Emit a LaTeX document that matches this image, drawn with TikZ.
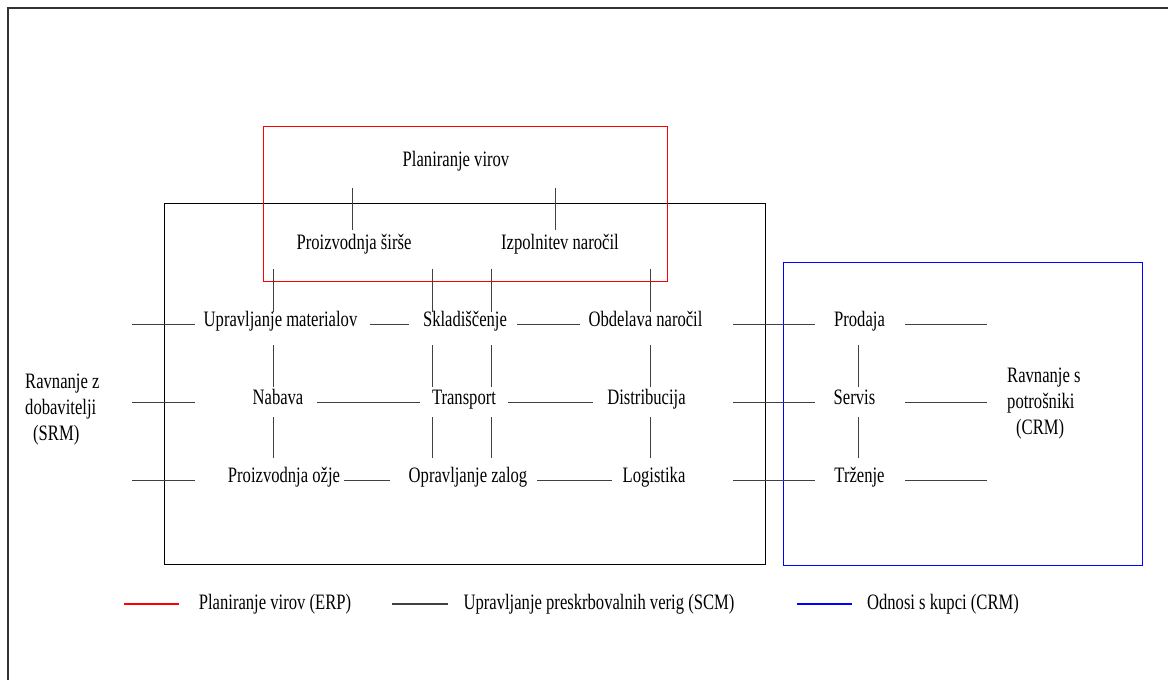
\documentclass[tikz,border=0pt]{standalone}
\usepackage{fontspec}
\setmainfont{Liberation Serif}[FakeStretch=0.755]
\begin{document}
\begin{tikzpicture}[x=1pt,y=-1pt,
  every node/.style={font=\fontsize{22}{26}\selectfont, inner sep=0pt},
  lbl/.style={anchor=mid},
  side/.style={anchor=north west, align=left},
  link/.style={draw=black!75, line width=1pt},
  box/.style={line width=1pt},
  key/.style={line width=1.6pt},
  % vertical links: label row to the row beneath it
  vplan/.style={link, shorten <=23pt, shorten >=17pt},
  vtop/.style={link, shorten <=22pt, shorten >=12pt},
  vone/.style={link, shorten <=21pt, shorten >=15pt},
  vtwo/.style={link, shorten <=15pt, shorten >=22pt}]

\useasboundingbox (0,0) rectangle (1168,680);
\fill[white] (0,0) rectangle (1168,680);

% page frame
\draw[line width=1.2pt, black!80] (8,680) |- (1168,8);

% the three system areas
\draw[box, black] (164,203) rectangle (765,564);
\draw[box, red] (263,126) rectangle (667,281);
\draw[box, blue] (783,262) rectangle (1142,565);

% labels
\node[lbl] (plan) at (456,164.5) {Planiranje virov};
\node[lbl] (psir) at (354,247) {Proizvodnja širše};
\node[lbl] (izp)  at (560,247) {Izpolnitev naročil};

\node[lbl] (um) at (280.5,324) {Upravljanje materialov};
\node[lbl] (sk) at (465,324)   {Skladiščenje};
\node[lbl] (ob) at (645.5,324) {Obdelava naročil};
\node[lbl] (pr) at (859.5,324) {Prodaja};

\node[lbl] (nb) at (278,402)   {Nabava};
\node[lbl] (tr) at (464,402)   {Transport};
\node[lbl] (di) at (646.5,402) {Distribucija};
\node[lbl] (se) at (854.5,402) {Servis};

\node[lbl] (po) at (284,480)   {Proizvodnja ožje};
\node[lbl] (oz) at (468,480)   {Opravljanje zalog};
\node[lbl] (lo) at (654,480)   {Logistika};
\node[lbl] (tz) at (859.5,480) {Trženje};

\node[side] (srm) at (25,374)   {Ravnanje z\\dobavitelji\\\hspace*{8pt}(SRM)};
\node[side] (crm) at (1007,368) {Ravnanje s\\potrošniki\\\hspace*{9pt}(CRM)};

% columns of the vertical links
\coordinate (t1) at (352,0);
\coordinate (t2) at (555,0);
\coordinate (k1) at (273,0);
\coordinate (k2) at (432,0);
\coordinate (k3) at (491,0);
\coordinate (k4) at (650,0);
\coordinate (k5) at (858,0);

% free ends of the row links
\coordinate (w1) at (132,324);
\coordinate (w2) at (132,402);
\coordinate (w3) at (132,480);
\coordinate (e1) at (987,324);
\coordinate (e2) at (987,402);
\coordinate (e3) at (987,480);

% vertical links
\draw[vplan] (plan.mid -| t1) -- (psir.mid -| t1);
\draw[vplan] (plan.mid -| t2) -- (izp.mid -| t2);

\draw[vtop] (psir.mid -| k1) -- (um.mid -| k1);
\draw[vone] (um.mid -| k1) -- (nb.mid -| k1);
\draw[vtwo] (nb.mid -| k1) -- (po.mid -| k1);

\draw[vtop] (psir.mid -| k2) -- (sk.mid -| k2);
\draw[vone] (sk.mid -| k2) -- (tr.mid -| k2);
\draw[vtwo] (tr.mid -| k2) -- (oz.mid -| k2);

\draw[vtop] (izp.mid -| k3) -- (sk.mid -| k3);
\draw[vone] (sk.mid -| k3) -- (tr.mid -| k3);
\draw[vtwo] (tr.mid -| k3) -- (oz.mid -| k3);

\draw[vtop] (izp.mid -| k4) -- (ob.mid -| k4);
\draw[vone] (ob.mid -| k4) -- (di.mid -| k4);
\draw[vtwo] (di.mid -| k4) -- (lo.mid -| k4);

\draw[vone] (pr.mid -| k5) -- (se.mid -| k5);
\draw[vtwo] (se.mid -| k5) -- (tz.mid -| k5);

% row links
\draw[link, shorten >=85.5pt] (w1) -- (um.mid);
\draw[link, shorten <=89.5pt, shorten >=56pt] (um.mid) -- (sk.mid);
\draw[link, shorten <=52pt, shorten >=65.5pt] (sk.mid) -- (ob.mid);
\draw[link, shorten <=87.5pt, shorten >=44.5pt] (ob.mid) -- (pr.mid);
\draw[link, shorten <=45.5pt] (pr.mid) -- (e1);

\draw[link, shorten >=83pt] (w2) -- (nb.mid);
\draw[link, shorten <=39pt, shorten >=44pt] (nb.mid) -- (tr.mid);
\draw[link, shorten <=44pt, shorten >=53.5pt] (tr.mid) -- (di.mid);
\draw[link, shorten <=86.5pt, shorten >=39.5pt] (di.mid) -- (se.mid);
\draw[link, shorten <=50.5pt] (se.mid) -- (e2);

\draw[link, shorten >=89pt] (w3) -- (po.mid);
\draw[link, shorten <=60pt, shorten >=78pt] (po.mid) -- (oz.mid);
\draw[link, shorten <=69pt, shorten >=42pt] (oz.mid) -- (lo.mid);
\draw[link, shorten <=79pt, shorten >=44.5pt] (lo.mid) -- (tz.mid);
\draw[link, shorten <=45.5pt] (tz.mid) -- (e3);

% legend
\node[lbl] (erp) at (275,607.5) {Planiranje virov (ERP)};
\node[lbl] (scm) at (599,607.5) {Upravljanje preskrbovalnih verig (SCM)};
\node[lbl] (ocr) at (943,607.5) {Odnosi s kupci (CRM)};
\coordinate (m1) at (124,604);
\coordinate (m2) at (392,604);
\coordinate (m3) at (797,604);
\draw[key, red, shorten >=96pt] (m1) -- (m1 -| erp.mid);
\draw[key, black!75, shorten >=151pt] (m2) -- (m2 -| scm.mid);
\draw[key, blue, shorten >=91pt] (m3) -- (m3 -| ocr.mid);
\end{tikzpicture}
\end{document}
